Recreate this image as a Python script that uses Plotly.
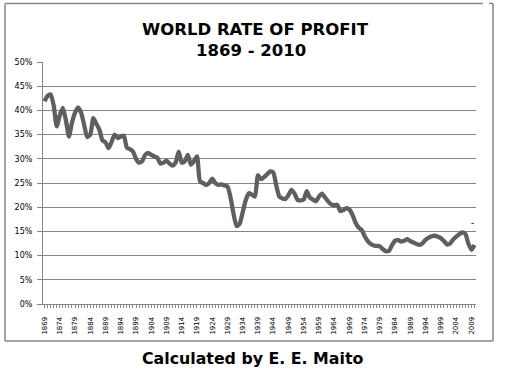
import plotly.graph_objects as go

years = list(range(1869, 2011))
rate = [
    41.9, 43.0, 43.3, 41.0, 36.7, 39.0, 40.5, 38.0, 34.6, 37.5,   # 1869-1878
    39.5, 40.6, 39.5, 37.0, 34.5, 35.0, 38.4, 37.2, 36.0, 33.8,   # 1879-1888
    33.4, 32.2, 33.5, 35.0, 34.3, 34.6, 34.8, 32.3, 32.0, 31.5,   # 1889-1898
    30.0, 29.2, 29.5, 30.8, 31.2, 30.8, 30.5, 30.2, 29.0, 29.2,   # 1899-1908
    29.6, 29.0, 28.6, 29.2, 31.5, 29.2, 29.5, 30.8, 28.8, 29.5,   # 1909-1918
    30.5, 25.3, 25.0, 24.6, 25.0, 25.9, 25.0, 24.6, 24.7, 24.5,   # 1919-1928
    24.3, 22.0, 18.6, 16.1, 16.6, 19.0, 21.5, 22.9, 22.6, 22.2,   # 1929-1938
    26.6, 25.8, 26.2, 26.8, 27.4, 27.2, 24.5, 22.2, 21.8, 21.7,   # 1939-1948
    22.5, 23.6, 22.8, 21.5, 21.4, 21.6, 23.3, 22.0, 21.6, 21.2,   # 1949-1958
    22.2, 22.8, 22.0, 21.2, 20.6, 20.4, 20.5, 19.2, 19.4, 19.8,   # 1959-1968
    19.5, 18.4, 16.8, 15.8, 15.3, 14.0, 13.0, 12.4, 12.1, 12.0,   # 1969-1978
    11.9, 11.3, 10.9, 11.0, 12.2, 13.1, 13.2, 12.9, 13.1, 13.4,   # 1979-1988
    13.0, 12.7, 12.4, 12.2, 12.6, 13.3, 13.7, 14.0, 14.1, 13.9,   # 1989-1998
    13.6, 13.0, 12.3, 12.5, 13.3, 13.9, 14.4, 14.8, 14.5, 12.5,   # 1999-2008
    11.2, 12.2,                                                   # 2009-2010
]
label_years = list(range(1869, 2011, 5))
y_ticks = list(range(0, 51, 5))

title_line1 = "WORLD RATE OF PROFIT"
title_line2 = "1869 - 2010"
source_text = "Calculated by E. E. Maito"

GRID = "#868686"
FONT = "DejaVu Sans"

fig = go.Figure()
fig.add_trace(go.Scatter(
    x=years, y=rate, mode="lines",
    line=dict(color="#5f5f5f", width=4.3, shape="spline", smoothing=0.6),
    hoverinfo="x+y", showlegend=False,
))

fig.update_layout(
    width=505, height=370,
    margin=dict(l=43, r=29, t=62, b=66),
    paper_bgcolor="white", plot_bgcolor="white",
    font=dict(family=FONT, color="black"),
    showlegend=False,
)

fig.update_xaxes(
    range=[1868.5, 2010.5],
    tickmode="array", tickvals=label_years, ticktext=[str(y) for y in label_years],
    tickangle=-90, tickfont=dict(size=7, family=FONT, color="black"),
    ticks="outside", ticklen=3, tickcolor=GRID,
    minor=dict(ticks="outside", dtick=1, tick0=1869, ticklen=3, tickcolor=GRID, showgrid=False),
    showline=True, linecolor=GRID, linewidth=1,
    showgrid=False, zeroline=False,
    ticklabelstandoff=6,
)
fig.update_yaxes(
    range=[0, 50],
    tickmode="array", tickvals=y_ticks, ticktext=[f"{v}%" for v in y_ticks],
    tickfont=dict(size=8, family=FONT, color="black"),
    ticks="outside", ticklen=5, tickcolor=GRID,
    showline=True, linecolor=GRID, linewidth=1,
    showgrid=True, gridcolor=GRID, gridwidth=1,
    zeroline=False,
    ticklabelstandoff=3,
)

# Titles and source text
fig.add_annotation(text=f"<b>{title_line1}</b>", xref="paper", yref="paper",
                   x=0.49, y=1.136, showarrow=False, xanchor="center", yanchor="middle",
                   font=dict(size=16.5, family=FONT, color="black"))
fig.add_annotation(text=f"<b>{title_line2}</b>", xref="paper", yref="paper",
                   x=0.48, y=1.048, showarrow=False, xanchor="center", yanchor="middle",
                   font=dict(size=16.5, family=FONT, color="black"))
fig.add_annotation(text=f"<b>{source_text}</b>", xref="paper", yref="paper",
                   x=0.483, y=-0.224, showarrow=False, xanchor="center", yanchor="middle",
                   font=dict(size=15.8, family=FONT, color="black"))
# small stray dash near the end of the series
fig.add_annotation(text="-", x=2009.4, y=16.8, showarrow=False,
                   font=dict(size=9, family=FONT, color="black"))

# chart frame
BX0, BX1 = -0.0878, 1.0393
BY0, BY1 = -0.153, 1.242
frame = dict(color=GRID, width=1.5)
fig.add_shape(type="line", xref="paper", yref="paper", x0=BX0, x1=BX0, y0=BY0, y1=BY1, line=frame)
fig.add_shape(type="line", xref="paper", yref="paper", x0=BX1, x1=BX1, y0=BY0, y1=BY1, line=frame)
fig.add_shape(type="line", xref="paper", yref="paper", x0=BX0, x1=1.0162, y0=BY1, y1=BY1, line=frame)
fig.add_shape(type="line", xref="paper", yref="paper", x0=1.030, x1=BX1, y0=BY1, y1=BY1, line=frame)
fig.add_shape(type="line", xref="paper", yref="paper", x0=BX0, x1=BX1, y0=BY0, y1=BY0, line=frame)

fig.write_html("out.html", config={"displayModeBar": False},
               post_script="document.body.style.margin='0px';document.body.style.overflow='hidden';")
